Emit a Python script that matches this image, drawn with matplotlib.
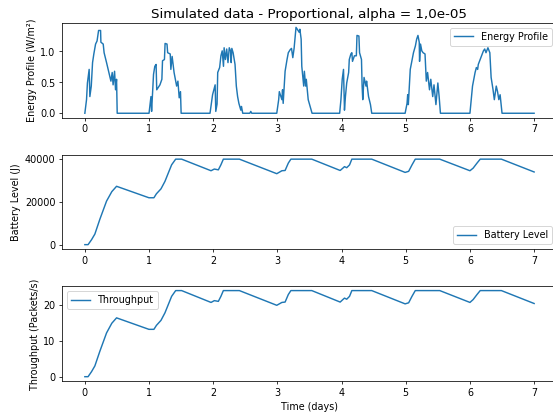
#!/usr/bin/env python3
"""
Simulated energy harvesting node: energy profile, battery level, throughput
"""

import matplotlib
matplotlib.use('Agg')
import matplotlib.pyplot as plt

plt.rcParams['font.family'] = 'DejaVu Sans'

# energy profile (days, W/m²)
energy_t = [
    0.0, 0.026, 0.04, 0.067, 0.078, 0.10, 0.12, 0.14, 0.167, 0.19, 0.214, 0.245,
    0.25, 0.286, 0.30, 0.338, 0.38, 0.406, 0.426, 0.44, 0.463, 0.478, 0.494, 0.504,
    1.0, 1.03, 1.04, 1.07, 1.09, 1.11, 1.12, 1.17, 1.20, 1.21, 1.24, 1.25, 1.28,
    1.29, 1.33, 1.34, 1.36, 1.39, 1.43, 1.45, 1.47, 1.49, 1.50,
    1.95, 1.98, 1.99, 2.03, 2.04, 2.06, 2.07, 2.10, 2.12, 2.14, 2.16, 2.17, 2.19,
    2.21, 2.23, 2.25, 2.27, 2.28, 2.29, 2.31, 2.34, 2.36, 2.38, 2.40, 2.43, 2.44,
    2.46, 2.57, 2.585, 2.60,
    2.99, 3.02, 3.03, 3.07, 3.08, 3.09, 3.12, 3.15, 3.17, 3.20, 3.22, 3.24, 3.26,
    3.29, 3.31, 3.34, 3.35, 3.37, 3.38, 3.41, 3.42, 3.44, 3.45, 3.48, 3.54,
    3.97, 3.99, 4.01, 4.03, 4.045, 4.06, 4.08, 4.11, 4.12, 4.145, 4.16, 4.17, 4.20,
    4.23, 4.24, 4.27, 4.28, 4.31, 4.32, 4.33, 4.35, 4.38, 4.39, 4.42, 4.45, 4.47,
    4.99, 5.02, 5.03, 5.04, 5.07, 5.10, 5.12, 5.15, 5.17, 5.19, 5.21, 5.215, 5.23,
    5.25, 5.27, 5.30, 5.32, 5.34, 5.37, 5.39, 5.42, 5.44, 5.47, 5.50, 5.52, 5.54,
    6.0, 6.02, 6.04, 6.06, 6.08, 6.10, 6.12, 6.13, 6.17, 6.21, 6.23, 6.25, 6.28,
    6.31, 6.33, 6.36, 6.38, 6.41, 6.43, 6.45, 6.47, 6.50,
    7.0,
]
energy_v = [
    0.0, 0.22, 0.49, 0.71, 0.27, 0.44, 0.82, 0.96, 1.12, 1.17, 1.34, 1.34,
    1.15, 1.12, 0.98, 0.82, 0.63, 0.52, 0.66, 0.46, 0.68, 0.38, 0.55, 0.0,
    0.0, 0.27, 0.03, 0.63, 0.76, 0.79, 0.38, 0.46, 0.55, 0.85, 0.87, 1.13, 1.12,
    0.98, 0.96, 0.71, 0.92, 0.66, 0.44, 0.52, 0.25, 0.35, 0.0,
    0.0, 0.22, 0.30, 0.46, 0.03, 0.15, 0.66, 0.74, 0.93, 1.01, 0.76, 1.06, 0.87,
    1.04, 0.82, 1.06, 1.01, 0.82, 1.05, 0.98, 0.79, 0.44, 0.27, 0.16, 0.05, 0.11,
    0.0, 0.0, 0.03, 0.0,
    0.0, 0.22, 0.35, 0.22, 0.38, 0.16, 0.68, 0.87, 0.98, 1.03, 1.05, 0.90, 1.05,
    1.39, 1.36, 1.31, 1.36, 1.20, 0.76, 0.44, 0.68, 0.44, 0.55, 0.22, 0.0,
    0.0, 0.22, 0.55, 0.71, 0.05, 0.27, 0.49, 0.66, 0.87, 0.96, 0.98, 0.84, 0.93,
    0.93, 1.26, 1.25, 0.98, 0.87, 0.44, 0.22, 0.58, 0.44, 0.52, 0.27, 0.14, 0.0,
    0.0, 0.16, 0.30, 0.14, 0.71, 0.87, 0.98, 1.09, 1.20, 1.26, 1.15, 0.84, 1.12,
    1.01, 0.98, 0.96, 0.52, 0.66, 0.38, 0.55, 0.27, 0.46, 0.14, 0.49, 0.27, 0.0,
    0.0, 0.22, 0.44, 0.55, 0.66, 0.74, 0.71, 0.79, 0.90, 1.01, 1.04, 0.98, 1.06,
    0.98, 0.58, 0.38, 0.22, 0.44, 0.35, 0.22, 0.30, 0.0,
    0.0,
]

# battery level (days, J)
battery_t = [
    0.0, 0.05, 0.104, 0.156, 0.234, 0.338, 0.42, 0.494,
    0.998, 1.076, 1.115, 1.186, 1.248, 1.30, 1.352, 1.415, 1.508,
    1.966, 2.017, 2.08, 2.12, 2.158, 2.408,
    2.99, 3.07, 3.12, 3.17, 3.21, 3.536,
    3.978, 4.02, 4.045, 4.08, 4.124, 4.16, 4.47,
    4.99, 5.045, 5.097, 5.148, 5.53,
    6.0, 6.05, 6.11, 6.16, 6.49,
    7.0,
]
battery_v = [
    0, 0, 2300, 4950, 11900, 20370, 24800, 27300,
    21940, 21940, 23800, 26100, 29600, 33500, 37360, 40000, 40000,
    34580, 35370, 35000, 37360, 40000, 40000,
    33200, 34580, 34700, 38150, 40000, 40000,
    34700, 35800, 36500, 36000, 37300, 40000, 40000,
    33800, 34300, 37300, 40000, 40000,
    34580, 35800, 38150, 40000, 40000,
    34000,
]

# throughput (days, packets/s)
throughput_t = battery_t
throughput_v = [
    0.0, 0.0, 1.4, 3.0, 7.1, 12.2, 14.9, 16.4,
    13.2, 13.2, 14.3, 15.7, 17.8, 20.1, 22.4, 24.0, 24.0,
    20.7, 21.2, 21.0, 22.4, 24.0, 24.0,
    19.9, 20.7, 20.8, 22.9, 24.0, 24.0,
    20.8, 21.5, 21.9, 21.6, 22.4, 24.0, 24.0,
    20.3, 20.6, 22.4, 24.0, 24.0,
    20.7, 21.5, 22.9, 24.0, 24.0,
    20.4,
]

fig = plt.figure(figsize=(8, 6), dpi=69.2)
left, width = 0.1127, 0.8927
ax1 = fig.add_axes([left, 0.7164, width, 0.2275])
ax2 = fig.add_axes([left, 0.400, width, 0.2265])
ax3 = fig.add_axes([left, 0.0819, width, 0.2281])

ax1.plot(energy_t, energy_v, label='Energy Profile')
ax1.set_title('Simulated data - Proportional, alpha = 1,0e-05', fontsize=14)
ax1.set_ylabel('Energy Profile (W/m²)')
ax1.legend(loc='upper right')

ax2.plot(battery_t, battery_v, label='Battery Level')
ax2.set_ylabel('Battery Level (J)')
ax2.legend(loc='lower right')

ax3.plot(throughput_t, throughput_v, label='Throughput')
ax3.set_ylabel('Throughput (Packets/s)')
ax3.set_xlabel('Time (days)')
ax3.legend(loc='upper left')

fig.savefig('out.png', dpi=69.2)
plt.close(fig)
